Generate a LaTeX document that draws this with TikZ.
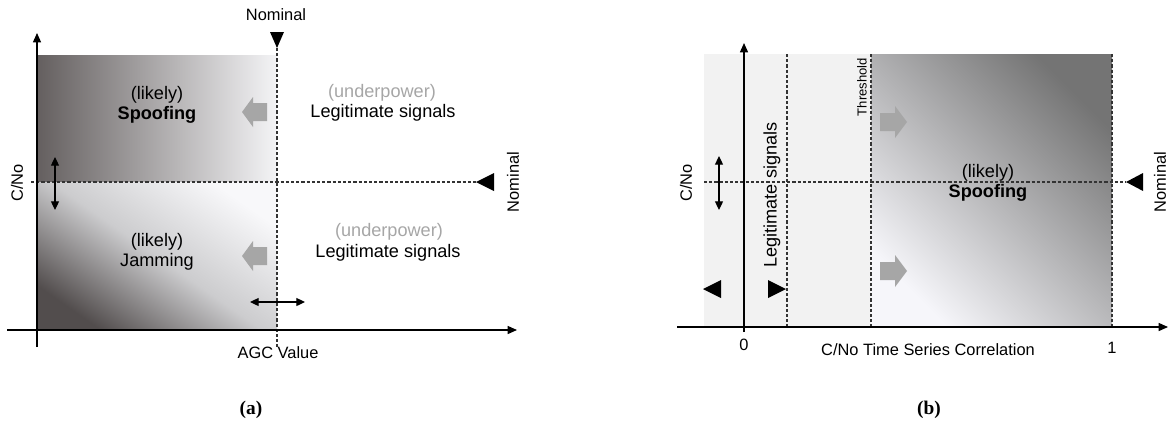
\documentclass[tikz,border=0pt]{standalone}
\usepackage{fontspec}
\setmainfont{Liberation Sans}
\newfontfamily\capfont{Liberation Serif}
\usetikzlibrary{arrows.meta}
\begin{document}
\begin{tikzpicture}[x=0.75pt,y=-0.75pt,
  axisline/.style={line width=1pt,-{Triangle[length=7pt,width=6pt]}},
  dbl/.style={line width=0.9pt,{Triangle[length=6.5pt,width=6pt]}-{Triangle[length=6.5pt,width=6pt]}},
  dashln/.style={line width=0.85pt, black!80, dash pattern=on 2.4pt off 1.5pt},
  marker/.style={fill=black},
  blockarrow/.style={fill=black!35},
  maintxt/.style={font=\fontsize{13.6}{16}\selectfont, inner sep=0pt},
  boldtxt/.style={font=\fontsize{13.6}{16}\selectfont\bfseries, inner sep=0pt},
  greytxt/.style={maintxt, text=black!35},
  lbl/.style={font=\fontsize{12.3}{14}\selectfont, inner sep=0pt},
  smalltxt/.style={font=\fontsize{9.8}{11}\selectfont, inner sep=0pt},
  captxt/.style={font=\capfont\fontsize{14.5}{16}\selectfont\bfseries, inner sep=0pt}
]
\useasboundingbox (0,0) rectangle (1170,426);

% ---------------- Panel (a) ----------------
\shade[left color={rgb,255:red,100;green,95;blue,95}, right color={rgb,255:red,244;green,244;blue,246}] (37,55) rectangle (277,182);
\shade[bottom color={rgb,255:red,82;green,77;blue,77}, top color={rgb,255:red,248;green,248;blue,250}, middle color={rgb,255:red,204;green,204;blue,206}, shading angle=-35] (37,182) rectangle (277,330);

\coordinate (a-vd0) at (277,48);
\coordinate (a-vd1) at (277,347);
\coordinate (a-hd0) at (31,182);
\coordinate (a-hd1) at (476,182);
\draw[dashln] (a-vd0) -- (a-vd1);
\draw[dashln] (a-hd0) -- (a-hd1);

\coordinate (a-y0) at (37,347);
\coordinate (a-y1) at (37,33);
\coordinate (a-x0) at (7,330);
\coordinate (a-x1) at (517,330);
\draw[axisline] (a-y0) -- (a-y1);
\draw[axisline] (a-x0) -- (a-x1);

% markers
\fill[marker] (a-vd0) -- (270,32) -- (284,32) -- cycle;
\fill[marker] (a-hd1) -- (494,173) -- (494,191) -- cycle;

% double arrows
\coordinate (a-d1a) at (55,157);
\coordinate (a-d1b) at (55,210);
\coordinate (a-d2a) at (250,302);
\coordinate (a-d2b) at (305,302);
\draw[dbl] (a-d1a) -- (a-d1b);
\draw[dbl] (a-d2a) -- (a-d2b);

% grey block arrows
\fill[blockarrow] (267,103) -- (253,103) -- (253,97) -- (242,112) -- (253,127) -- (253,121) -- (267,121) -- cycle;
\fill[blockarrow] (267,247) -- (253,247) -- (253,241) -- (242,256) -- (253,271) -- (253,265) -- (267,265) -- cycle;

% texts
\node[maintxt] (a-l1) at (157,95) {(likely)};
\node[boldtxt] (a-sp) at (157,115) {Spoofing};
\node[maintxt] (a-l2) at (157,242) {(likely)};
\node[maintxt] (a-jm) at (157,262) {Jamming};
\node[greytxt] (a-u1) at (382,93) {(underpower)};
\node[maintxt] (a-g1) at (383,113) {Legitimate signals};
\node[greytxt] (a-u2) at (389,232) {(underpower)};
\node[maintxt] (a-g2) at (388,253) {Legitimate signals};
\node[lbl] (a-nomt) at (276,15) {Nominal};
\node[lbl, rotate=90] (a-nomr) at (513,182) {Nominal};
\node[lbl, rotate=90] (a-cno) at (17,183) {C/No};
\node[lbl] (a-agc) at (278,353) {AGC Value};
\node[captxt] (a-cap) at (251,410) {(a)};

% ---------------- Panel (b) ----------------
\fill[black!5] (704,54) rectangle (871,327);
\shade[bottom color={rgb,255:red,246;green,246;blue,250}, top color={rgb,255:red,116;green,116;blue,116}, shading angle=-45] (871,54) rectangle (1112,327);

\coordinate (b-v1a) at (787,54);
\coordinate (b-v1b) at (787,329);
\coordinate (b-v2a) at (871,54);
\coordinate (b-v2b) at (871,329);
\coordinate (b-v3a) at (1112,54);
\coordinate (b-v3b) at (1112,329);
\coordinate (b-hd0) at (704,182);
\coordinate (b-hd1) at (1126,182);
\draw[dashln] (b-v1a) -- (b-v1b);
\draw[dashln] (b-v2a) -- (b-v2b);
\draw[dashln] (b-v3a) -- (b-v3b);
\draw[dashln] (b-hd0) -- (b-hd1);

\coordinate (b-y0) at (744,332);
\coordinate (b-y1) at (744,43);
\coordinate (b-x0) at (677,327);
\coordinate (b-x1) at (1168,327);
\draw[axisline] (b-y0) -- (b-y1);
\draw[axisline] (b-x0) -- (b-x1);

% markers
\fill[marker] (b-hd1) -- (1143,173) -- (1143,191) -- cycle;
\fill[marker] (703,289) -- (721,280) -- (721,298) -- cycle;
\fill[marker] (786,289) -- (768,280) -- (768,298) -- cycle;

% double arrow
\coordinate (b-d1a) at (719,156);
\coordinate (b-d1b) at (719,210);
\draw[dbl] (b-d1a) -- (b-d1b);

% grey block arrows
\fill[blockarrow] (880,113) -- (895,113) -- (895,106) -- (907,122) -- (895,138) -- (895,131) -- (880,131) -- cycle;
\fill[blockarrow] (880,262) -- (895,262) -- (895,255) -- (907,271) -- (895,287) -- (895,280) -- (880,280) -- cycle;

% texts
\node[smalltxt, rotate=90] (b-thr) at (862,87) {Threshold};
\node[maintxt, rotate=90] (b-leg) at (772,195) {Legitimate signals};
\node[lbl, rotate=90] (b-cno) at (686,183) {C/No};
\node[lbl, rotate=90] (b-nom) at (1160,182) {Nominal};
\node[maintxt] (b-l1) at (988,173) {(likely)};
\node[boldtxt] (b-sp) at (988,193) {Spoofing};
\node[lbl] (b-0) at (744,345) {0};
\node[lbl] (b-1) at (1112,348) {1};
\node[lbl] (b-xl) at (928,350) {C/No Time Series Correlation};
\node[captxt] (b-cap) at (929,410) {(b)};
\end{tikzpicture}
\end{document}
